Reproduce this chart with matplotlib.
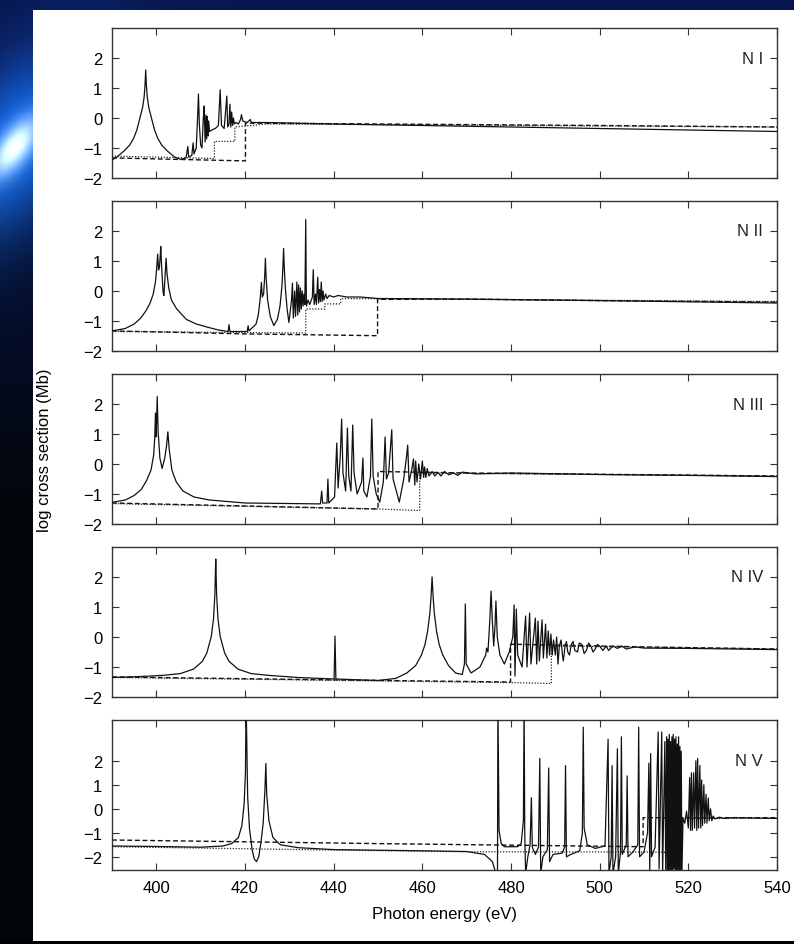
import matplotlib
matplotlib.use("Agg")
import matplotlib.pyplot as plt
import numpy as np

plt.rcParams['font.family'] = ['Liberation Sans', 'DejaVu Sans']

# ---- data: (photon energy eV, log cross section Mb) ----
labels = ["N I", "N II", "N III", "N IV", "N V"]

n1_solid = [(390, -1.40), (391.1, -1.3), (392.7, -1.1), (394, -0.9), (394.9, -0.67), (395.6, -0.4),
            (396.3, 0.0), (396.9, 0.35), (397.25, 0.7), (397.45, 1.1), (397.6, 1.6), (397.75, 1.1),
            (397.95, 0.7), (398.3, 0.35), (398.9, 0.0), (399.6, -0.4), (400.3, -0.67), (401.2, -0.9),
            (402.5, -1.1), (404.1, -1.3), (405.6, -1.38), (406.7, -1.33), (407.1, -0.95), (407.3, -1.3),
            (408.0, -1.25), (408.3, -0.83), (408.5, -1.2), (409.0, -1.0), (409.3, 0.0), (409.5, 0.8),
            (409.7, -0.2), (410.0, -0.9), (410.3, -1.0), (410.6, 0.0), (410.8, 0.4), (411.0, -0.8),
            (411.2, 0.1), (411.35, -0.7), (411.5, 0.05), (411.65, -0.6), (411.8, -0.1), (412.0, -0.45),
            (412.5, -0.4), (413.3, -0.35), (414.0, -0.25), (414.4, 0.94), (414.7, -0.25), (415.3, -0.35),
            (415.9, 0.73), (416.1, -0.3), (416.4, -0.2), (416.6, 0.46), (416.8, -0.3), (417.0, 0.2),
            (417.2, -0.25), (417.4, 0.0), (417.6, -0.2), (418.0, -0.15), (418.5, -0.2), (419.0, -0.05),
            (419.2, 0.11), (419.5, -0.1), (420.5, -0.15), (421.2, -0.05), (421.4, -0.15), (425, -0.15),
            (440, -0.2), (460, -0.25), (480, -0.3), (500, -0.35), (520, -0.4), (540, -0.45)]
n1_dash = [(390, -1.33), (405, -1.38), (420.1, -1.43), (420.1, -0.17), (450, -0.2), (500, -0.25), (540, -0.3)]
n1_dot = [(390, -1.27), (413.1, -1.35), (413.1, -0.78), (417.7, -0.78), (417.7, -0.3), (425, -0.2), (540, -0.3)]

n2_solid = [(390, -1.33), (393, -1.25), (395, -1.1), (396.5, -0.9), (397.7, -0.65), (398.6, -0.4),
            (399.3, -0.1), (399.8, 0.3), (400.1, 0.8), (400.3, 1.23), (400.5, 0.7), (400.7, 0.8),
            (400.85, 1.1), (401.0, 1.48), (401.2, 0.8), (401.5, 0.0), (401.7, -0.15), (401.9, 0.3),
            (402.05, 0.7), (402.2, 1.09), (402.4, 0.6), (402.8, 0.1), (403.4, -0.3), (404.6, -0.6),
            (406.8, -0.95), (409, -1.1), (411.4, -1.2), (414, -1.3), (416.2, -1.35), (416.4, -1.12),
            (416.6, -1.35), (420.5, -1.35), (420.7, -1.16), (420.9, -1.33), (422.5, -1.1), (423.0, -0.8),
            (423.4, -0.3), (423.7, 0.29), (423.9, -0.2), (424.2, -0.1), (424.45, 0.5), (424.6, 1.09),
            (424.75, 0.5), (425.1, -0.3), (425.7, -0.85), (426.5, -1.15), (427.3, -0.95), (427.9, -0.5),
            (428.35, 0.2), (428.55, 0.8), (428.7, 1.42), (428.85, 0.8), (429.1, 0.1), (429.5, -0.6),
            (429.9, -1.05), (430.5, -0.3), (430.7, 0.26), (430.9, -0.9), (431.2, 0.0), (431.4, -0.85),
            (431.7, 0.3), (431.9, -0.8), (432.1, 0.2), (432.3, -0.7), (432.5, 0.1), (432.7, -0.6),
            (432.9, 0.0), (433.1, -0.5), (433.3, -0.1), (433.5, -0.45), (433.7, 2.38), (433.85, -0.5),
            (434.2, -0.3), (434.6, -0.45), (435.2, -0.2), (435.4, 0.71), (435.6, -0.45), (435.9, -0.1),
            (436.1, -0.45), (436.4, 0.46), (436.6, -0.4), (436.8, 0.05), (437.0, -0.35), (437.2, 0.3),
            (437.4, -0.35), (437.6, 0.0), (437.8, -0.3), (438.2, -0.1), (438.5, -0.25), (439, -0.15),
            (440, -0.2), (441, -0.15), (443, -0.2), (446, -0.2), (450, -0.25), (470, -0.27),
            (500, -0.32), (540, -0.4)]
n2_dash = [(390, -1.33), (420, -1.43), (449.9, -1.49), (449.9, -0.28), (470, -0.27), (500, -0.32), (540, -0.37)]
n2_dot = [(390, -1.35), (433.7, -1.4), (433.7, -0.6), (438.0, -0.6), (438.0, -0.43), (441.6, -0.43),
          (441.6, -0.25), (540, -0.35)]

n3_solid = [(390, -1.28), (393, -1.2), (395, -1.05), (396.6, -0.85), (397.8, -0.55), (398.8, -0.2),
            (399.4, 0.3), (399.65, 0.9), (399.8, 1.7), (399.95, 0.9), (400.05, 1.4), (400.2, 2.25),
            (400.4, 1.1), (400.8, 0.2), (401.3, -0.15), (401.9, 0.2), (402.3, 0.6), (402.6, 1.07),
            (402.9, 0.5), (403.5, -0.2), (404.5, -0.6), (406, -0.9), (408.5, -1.1), (412, -1.2),
            (420, -1.3), (437, -1.33), (437.3, -0.9), (437.5, -1.3), (438.5, -1.3), (438.7, -0.5),
            (438.9, -1.3), (440.2, -1.1), (440.7, 0.7), (441.0, -0.8), (441.5, 0.3), (441.8, 1.5),
            (442.1, -0.3), (442.7, -0.9), (443.1, 1.2), (443.4, -0.4), (443.9, -0.9), (444.3, 1.3),
            (444.6, -0.3), (445.3, -1.0), (446.3, -0.6), (446.6, 0.2), (446.8, -0.9), (447.5, -1.1),
            (448.3, -0.4), (448.6, 1.5), (448.9, -0.4), (449.6, -1.0), (450.4, -1.27), (451.2, -0.6),
            (451.6, 0.9), (451.9, -0.5), (452.4, -0.3), (453.1, 1.14), (453.4, -0.5), (454.8, -1.27),
            (455.8, -0.5), (456.4, 0.2), (456.7, 0.63), (457.0, -0.6), (457.6, -0.2), (458.0, 0.17),
            (458.3, -0.7), (458.5, 0.1), (458.8, -0.6), (459.2, 0.0), (459.6, -0.5), (460.0, 0.1),
            (460.3, -0.45), (460.5, -0.1), (460.8, -0.45), (461.1, -0.15), (461.5, -0.4), (462.2, -0.25),
            (462.8, -0.4), (463.5, -0.28), (464.2, -0.4), (465, -0.25), (466, -0.36), (467, -0.3),
            (468, -0.38), (469, -0.27), (472, -0.33), (480, -0.3), (500, -0.35), (520, -0.38), (540, -0.42)]
n3_dash = [(390, -1.3), (420, -1.4), (450, -1.5), (450, -0.25), (470, -0.3), (540, -0.4)]
n3_dot = [(390, -1.32), (450, -1.5), (459.4, -1.55), (459.4, -0.3), (540, -0.4)]

n4_solid = [(390, -1.35), (396, -1.32), (401.4, -1.28), (405.4, -1.22), (408.4, -1.07), (410.4, -0.81),
            (411.4, -0.53), (412.4, 0.02), (412.9, 0.61), (413.2, 1.4), (413.3, 2.0), (413.4, 2.6),
            (413.5, 2.0), (413.6, 1.4), (413.9, 0.61), (414.4, 0.02), (415.4, -0.53), (416.4, -0.81),
            (418.4, -1.07), (421.4, -1.22), (425.4, -1.28), (432, -1.35), (440.1, -1.4), (440.3, 0.03),
            (440.5, -1.4), (450, -1.45), (454, -1.38), (456.5, -1.2), (458.5, -0.95), (459.8, -0.6),
            (460.6, -0.25), (461.2, 0.2), (461.7, 0.8), (461.95, 1.3), (462.2, 2.0), (462.45, 1.3),
            (462.7, 0.8), (463.2, 0.2), (463.8, -0.25), (464.6, -0.6), (465.9, -0.95), (467.5, -1.2),
            (469.0, -1.25), (469.5, -0.9), (469.7, 1.1), (469.9, -0.9), (471, -1.2), (473, -1.0),
            (474.3, -0.6), (474.5, -0.37), (474.8, -0.5), (475.2, 0.5), (475.5, 1.53), (475.8, 0.5),
            (476.1, -0.3), (476.4, 0.4), (476.6, 1.2), (476.9, 0.0), (477.5, -0.6), (478.5, -0.9),
            (479.6, -0.5), (480.4, 0.0), (480.7, 1.07), (480.9, -1.3), (481.2, 0.93), (481.5, -0.6),
            (482.5, -1.0), (483.3, 0.7), (483.6, -1.0), (484.2, 0.8), (484.5, -0.9), (485.5, 0.63),
            (485.8, -0.9), (486.1, 0.53), (486.4, -0.8), (487.0, 0.57), (487.3, -0.7), (487.8, 0.43),
            (488.1, -0.7), (488.4, 0.2), (488.7, -0.6), (489.0, 0.1), (489.3, -0.6), (489.6, -0.1),
            (490.0, -0.6), (490.3, 0.0), (490.6, -0.9), (490.9, -0.3), (491.3, -0.1), (491.6, -0.6),
            (491.8, -0.8), (492.2, -0.3), (492.5, -0.15), (492.8, -0.5), (493.2, -0.6), (493.6, -0.25),
            (494, -0.15), (494.4, -0.45), (495, -0.5), (495.4, -0.2), (496, -0.25), (496.5, -0.55),
            (497, -0.45), (497.5, -0.2), (498, -0.3), (498.5, -0.5), (499, -0.4), (499.5, -0.25),
            (500, -0.3), (500.7, -0.45), (501.5, -0.3), (502, -0.45), (503, -0.3), (504, -0.38),
            (505, -0.3), (506, -0.4), (508, -0.33), (510, -0.37), (520, -0.38), (540, -0.42)]
n4_dash = [(390, -1.33), (440, -1.43), (479.9, -1.5), (479.9, -0.24), (510, -0.33), (540, -0.4)]
n4_dot = [(390, -1.35), (479.9, -1.52), (489.1, -1.55), (489.1, -0.3), (540, -0.4)]

n5_solid = [(390, -1.55), (400, -1.57), (410, -1.6), (415, -1.55), (417, -1.45), (418.5, -1.2),
            (419.3, -0.7), (419.8, 0.2), (420.1, 1.5), (420.25, 4.5), (420.45, 2.3), (420.6, 0.5),
            (421.0, -0.8), (421.6, -1.7), (422.1, -2.1), (422.6, -2.2), (423.1, -2.0), (423.6, -1.4),
            (424.1, -0.6), (424.5, 0.8), (424.7, 1.89), (424.9, 0.6), (425.4, -0.5), (426.3, -1.2),
            (428, -1.5), (432, -1.62), (440, -1.7), (460, -1.75), (470, -1.78), (474, -1.9),
            (475.8, -2.2), (476.6, -2.7), (476.95, -2.7), (477.05, 4.5), (477.3, -0.9), (477.8, -1.45),
            (478.5, -1.58), (481.5, -1.58), (482.3, -1.45), (482.8, -0.5), (482.95, 4.5), (483.1, -1.0),
            (483.3, -2.7), (483.8, -2.0), (484.3, -1.5), (484.6, 0.46), (484.8, -1.6), (485.5, -1.9),
            (486.2, -1.6), (486.5, 2.1), (486.7, -2.7), (487.2, -2.0), (488.2, -1.7), (488.5, 1.7),
            (488.7, -2.2), (489.5, -1.9), (491.5, -1.85), (492.1, -1.6), (492.3, 1.8), (492.5, -2.0),
            (493.5, -1.9), (495.5, -1.75), (496.1, -1.0), (496.3, 3.4), (496.5, -0.8), (497.2, -1.5),
            (499, -1.65), (501.2, -1.55), (501.9, 2.9), (502.1, -2.7), (502.6, -2.0), (502.8, 1.8),
            (503.0, -2.7), (503.6, -2.0), (504.0, 2.5), (504.2, -2.7), (504.7, -1.8), (504.9, 3.0),
            (505.1, -1.9), (506.0, -1.5), (506.2, 1.37), (506.4, -2.0), (507.5, -1.8), (508.6, -1.5),
            (508.8, 3.4), (509.0, -2.0), (510.0, -1.8), (510.8, -1.0), (511.1, 1.9), (511.3, -2.7),
            (511.5, 2.3), (511.7, -2.0), (512.5, -1.6), (513.2, 3.2), (513.4, -2.5), (514.0, 3.2),
            (514.2, -2.7), (514.7, 2.8), (514.9, -2.7), (515.1, 3.0), (515.25, -2.7), (515.4, 2.9),
            (515.55, -2.7), (515.7, 3.1), (515.85, -2.6), (516.0, 2.8), (516.15, -2.7), (516.3, 3.0),
            (516.45, -2.7), (516.6, 3.1), (516.75, -2.5), (516.9, 2.9), (517.05, -2.7), (517.2, 3.0),
            (517.35, -2.7), (517.5, 2.7), (517.65, -2.6), (517.8, 3.0), (517.95, -2.7), (518.1, 2.6),
            (518.25, -2.7), (518.4, 2.4), (518.55, -2.7), (518.8, -0.4), (519.2, -0.6), (519.6, -0.1),
            (520.0, -0.8), (520.3, 1.3), (520.5, -0.9), (520.7, 1.5), (520.9, -0.9), (521.2, 1.5),
            (521.4, -0.8), (521.7, 2.0), (521.9, -0.9), (522.1, 2.1), (522.3, -0.8), (522.6, 1.8),
            (522.8, -0.8), (523.0, 1.2), (523.2, -0.7), (523.5, 1.0), (523.7, -0.6), (524.0, 0.6),
            (524.2, -0.6), (524.5, 0.45), (524.7, -0.5), (525.0, 0.0), (525.3, -0.5), (525.6, -0.3),
            (526, -0.42), (527, -0.35), (528, -0.4), (530, -0.37), (540, -0.4)]
n5_dash = [(390, -1.3), (450, -1.45), (509.8, -1.58), (509.8, -0.37), (540, -0.37)]
n5_dot = [(390, -1.58), (440, -1.72), (470, -1.79), (510, -1.8), (518.5, -1.82), (518.5, -0.4), (540, -0.4)]

solids = [n1_solid, n2_solid, n3_solid, n4_solid, n5_solid]
dashes = [n1_dash, n2_dash, n3_dash, n4_dash, n5_dash]
dots = [n1_dot, n2_dot, n3_dot, n4_dot, n5_dot]
ylims = [(-2, 3), (-2, 3), (-2, 3), (-2, 3), (-2.55, 3.7)]
yticks = [-2, -1, 0, 1, 2]
xticks = [400, 420, 440, 460, 480, 500, 520, 540]

W, H = 794, 945
fig = plt.figure(figsize=(W / 100, H / 100), dpi=100)

# dark background with a blue glow, white page on top
bg = fig.add_axes([0, 0, 1, 1], zorder=-10)
yy, xx = np.mgrid[0:H, 0:W].astype(float)
fade = np.clip((520 - yy) / 420, 0, 1)
img = np.zeros((H, W, 3))
img[..., 0] = 0.01 + 0.02 * fade
img[..., 1] = 0.02 + 0.07 * fade
img[..., 2] = 0.03 + 0.28 * fade
dx, dy = xx - 14, yy - 148
u = dx * 0.6 - dy * 0.8
v = dx * 0.8 + dy * 0.6
halo = np.exp(-(u / 110) ** 2 - (v / 60) ** 2)
core = np.exp(-(u / 34) ** 2 - (v / 15) ** 2)
img += halo[..., None] * np.array([0.05, 0.35, 0.65])
img += core[..., None] * np.array([0.95, 0.7, 0.4])
img = np.clip(img, 0, 1)
img[11:942, 33:] = 1.0
img[942:, :] = 0.0
bg.imshow(img, aspect='auto', interpolation='bilinear')
bg.axis('off')

left, width = 112 / W, 665 / W
for k in range(5):
    top = 29 + 173 * k
    ax = fig.add_axes([left, 1 - (top + 150) / H, width, 150 / H])
    e, s = zip(*solids[k])
    ax.plot(e, s, color='#111111', lw=0.9, zorder=3)
    e, s = zip(*dashes[k])
    ax.plot(e, s, color='#111111', lw=1.0, ls=(0, (3.5, 2)), zorder=2)
    e, s = zip(*dots[k])
    ax.plot(e, s, color='#222222', lw=0.9, ls=(0, (1, 1.3)), zorder=2)
    ax.set_xlim(390, 540)
    ax.set_ylim(*ylims[k])
    ax.set_yticks(yticks)
    ax.set_xticks(xticks)
    ax.tick_params(direction='in', length=5, width=0.8, top=True, right=True,
                   labelsize=12, pad=7, color='#333333')
    if k < 4:
        ax.set_xticklabels([])
    for sp in ax.spines.values():
        sp.set_linewidth(1.0)
        sp.set_color('#333333')
    ax.text(0.979, 2, labels[k], transform=ax.get_yaxis_transform(), ha='right', va='center',
            fontsize=12, color='#222222')
    if k == 4:
        ax.set_xlabel("Photon energy (eV)", fontsize=12, labelpad=8)

fig.text(45 / W, 1 - 450 / H, "log cross section (Mb)", rotation=90, ha='center', va='center', fontsize=12)

fig.savefig("out.png", dpi=100)
